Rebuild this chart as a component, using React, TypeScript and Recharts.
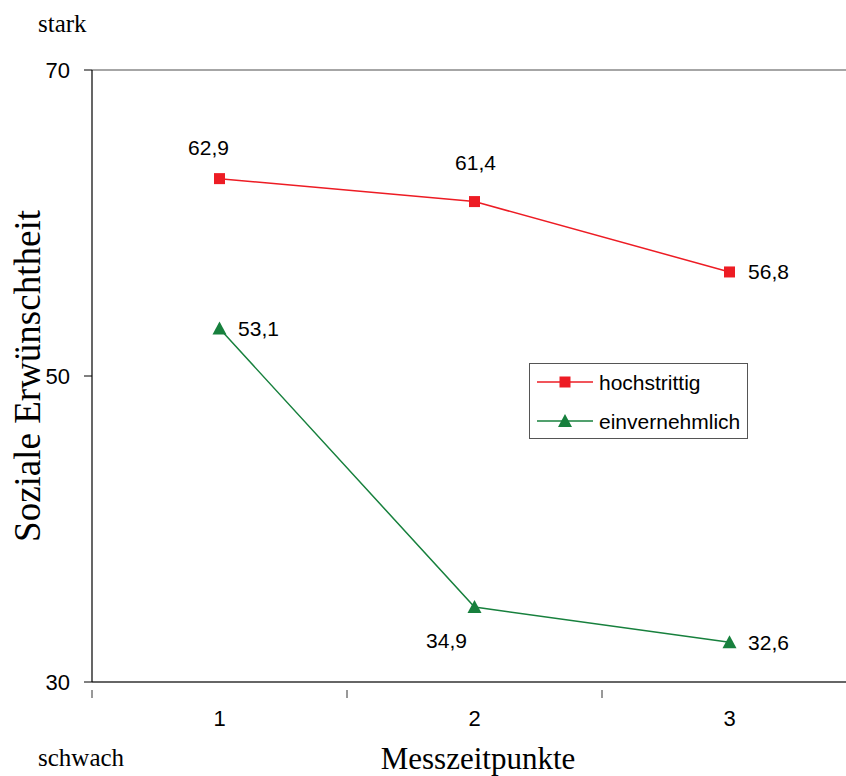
import React from "react";
import {
  LineChart,
  Line,
  XAxis,
  YAxis,
  ReferenceLine,
  LabelList,
} from "recharts";

const messzeitpunkte = [1, 2, 3];
const hochstrittig = [62.9, 61.4, 56.8];
const einvernehmlich = [53.1, 34.9, 32.6];
const yTicks = [30, 50, 70];
// category boundaries, where the short tick marks sit
const bandEdges = [0.5, 1.5, 2.5, 3.5];

const RED = "#ED1C24";
const GREEN = "#17803D";
const SANS = "'Liberation Sans', Arial, sans-serif";
const SERIF = "'Liberation Serif', 'Times New Roman', serif";

// label offsets relative to each point (dx, dy of the text centre)
const hochOffsets = [
  [-11, -31],
  [1, -39],
  [39, 0],
];
const einOffsets = [
  [39, 0],
  [-28, 33],
  [39, 0],
];

const data = messzeitpunkte.map((t, i) => ({
  t,
  hoch: hochstrittig[i],
  ein: einvernehmlich[i],
}));

const fmt = (v: number) => v.toFixed(1).replace(".", ",");

const Square = (props: any) => {
  const { cx, cy } = props;
  if (cx == null || cy == null) return null;
  return <rect x={cx - 5.5} y={cy - 5.5} width={11} height={11} fill={RED} />;
};

const Triangle = (props: any) => {
  const { cx, cy } = props;
  if (cx == null || cy == null) return null;
  return (
    <polygon
      points={`${cx},${cy - 7} ${cx + 7},${cy + 6} ${cx - 7},${cy + 6}`}
      fill={GREEN}
    />
  );
};

// x ticks: labels on the categories, short marks on the boundaries
const XTick = (props: any) => {
  const { x, y, payload } = props;
  const v = payload.value;
  if (bandEdges.includes(v)) {
    return <line x1={x} x2={x} y1={y} y2={y + 8} stroke="#333" />;
  }
  return (
    <text
      x={x}
      y={y + 36}
      textAnchor="middle"
      fontSize={22}
      fontFamily={SANS}
      fill="#000"
    >
      {v}
    </text>
  );
};

const makeLabel = (offsets: number[][]) => (props: any) => {
  const { x, y, value, index } = props;
  const [dx, dy] = offsets[index];
  return (
    <text
      x={x + dx}
      y={y + dy}
      textAnchor="middle"
      dominantBaseline="central"
      fontSize={21}
      fontFamily={SANS}
      fill="#000"
    >
      {fmt(value)}
    </text>
  );
};

const LegendBox = () => (
  <div
    style={{
      position: "absolute",
      left: 529,
      top: 363,
      width: 217,
      height: 74,
      border: "1px solid #555",
      background: "#fff",
    }}
  >
    <svg width={217} height={74} style={{ position: "absolute", left: 0, top: 0 }}>
      <line x1={7} x2={63} y1={18} y2={18} stroke={RED} strokeWidth={1.5} />
      <rect x={29.5} y={12.5} width={11} height={11} fill={RED} />
      <text x={69} y={18} dominantBaseline="central" fontSize={21} fontFamily={SANS}>
        hochstrittig
      </text>
      <line x1={7} x2={63} y1={57} y2={57} stroke={GREEN} strokeWidth={1.5} />
      <polygon points="35,50 42,63 28,63" fill={GREEN} />
      <text x={69} y={57} dominantBaseline="central" fontSize={21} fontFamily={SANS}>
        einvernehmlich
      </text>
    </svg>
  </div>
);

export default function App() {
  return (
    <div
      style={{
        position: "absolute",
        left: 0,
        top: 0,
        width: 846,
        height: 776,
        overflow: "hidden",
        background: "#fff",
      }}
    >
      <LineChart
        width={870}
        height={776}
        data={data}
        margin={{ top: 70, right: 13, bottom: 54, left: 32 }}
      >
        <XAxis
          type="number"
          dataKey="t"
          domain={[0.5, 3.5]}
          ticks={[0.5, 1, 1.5, 2, 2.5, 3, 3.5]}
          interval={0}
          tickLine={false}
          axisLine={{ stroke: "#333", strokeWidth: 1.5 }}
          tick={<XTick />}
          height={40}
        />
        <YAxis
          type="number"
          domain={[30, 70]}
          ticks={yTicks}
          width={60}
          axisLine={{ stroke: "#000", strokeWidth: 1.2 }}
          tickLine={{ stroke: "#000" }}
          tickSize={8}
          tick={{ fontSize: 22, fontFamily: SANS, fill: "#000" }}
          tickMargin={14}
        />
        <ReferenceLine y={70} stroke="#888" strokeWidth={1.5} />
        <Line
          dataKey="hoch"
          name="hochstrittig"
          stroke={RED}
          strokeWidth={1.5}
          dot={<Square />}
          activeDot={false}
          isAnimationActive={false}
        >
          <LabelList dataKey="hoch" content={makeLabel(hochOffsets)} />
        </Line>
        <Line
          dataKey="ein"
          name="einvernehmlich"
          stroke={GREEN}
          strokeWidth={1.5}
          dot={<Triangle />}
          activeDot={false}
          isAnimationActive={false}
        >
          <LabelList dataKey="ein" content={makeLabel(einOffsets)} />
        </Line>
      </LineChart>

      <LegendBox />

      <svg
        width={846}
        height={776}
        style={{ position: "absolute", left: 0, top: 0, pointerEvents: "none" }}
      >
        <text x={38} y={32} fontSize={25} fontFamily={SERIF} fill="#000">
          stark
        </text>
        <text x={38} y={766} fontSize={25} fontFamily={SERIF} fill="#000">
          schwach
        </text>
        <text
          x={478}
          y={769}
          textAnchor="middle"
          fontSize={31}
          fontFamily={SERIF}
          fill="#000"
        >
          Messzeitpunkte
        </text>
        <text
          x={40}
          y={376}
          textAnchor="middle"
          fontSize={37}
          fontFamily={SERIF}
          fill="#000"
          transform="rotate(-90 40 376)"
        >
          Soziale Erwünschtheit
        </text>
      </svg>
    </div>
  );
}
